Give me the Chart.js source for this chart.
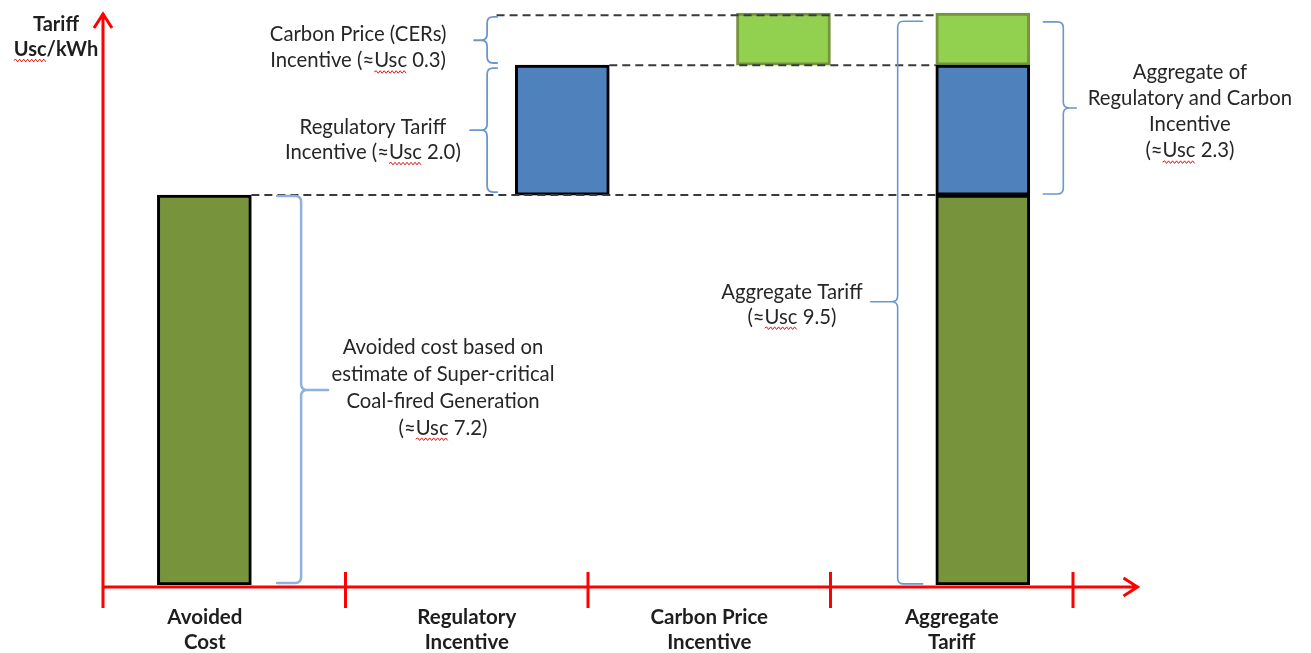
<!DOCTYPE html>
<html>
<head>
<meta charset="utf-8">
<style>
  html, body { margin: 0; padding: 0; background: #ffffff; }
  canvas { display: block; }
</style>
<script src="https://cdn.jsdelivr.net/npm/chart.js@4.4.1/dist/chart.umd.min.js"></script>
</head>
<body>
<canvas id="c" width="1311" height="653"></canvas>
<script>
// ---------------- DATA ----------------
const categories = ['Avoided Cost', 'Regulatory Incentive', 'Carbon Price Incentive', 'Aggregate Tariff'];
const categoryLabels = [['Avoided', 'Cost'], ['Regulatory', 'Incentive'], ['Carbon Price', 'Incentive'], ['Aggregate', 'Tariff']];
// bar heights as drawn (schematic, arbitrary units of the unlabelled y axis)
const avoidedCostValues = [7.2, null, null, 7.2];
const regulatoryValues  = [null, 2.4, null, 2.4];
const carbonValues      = [null, null, 0.96, 0.96];
const yAxisTitle = ['Tariff', 'Usc/kWh'];
const noteCarbon     = ['Carbon Price (CERs)', 'Incentive (≈Usc 0.3)'];
const noteRegulatory = ['Regulatory Tariff', 'Incentive (≈Usc 2.0)'];
const noteAvoided    = ['Avoided cost based on', 'estimate of Super-critical', 'Coal-fired Generation', '(≈Usc 7.2)'];
const noteAggregate  = ['Aggregate Tariff', '(≈Usc 9.5)'];
const noteAggOf      = ['Aggregate of', 'Regulatory and Carbon', 'Incentive', '(≈Usc 2.3)'];

// ---------------- LAYOUT (positions in axis units) ----------------
const barCenters = [0.418, 1.894, 2.806, 3.628];
const labelCenters = [0.42, 1.5, 2.5, 3.5];
const BAR_W = 94;

const regBase = avoidedCostValues[3];
const carbonBase = regBase + regulatoryValues[3];
const topValue = carbonBase + carbonValues[3];

function series(label, values, base, fill, border) {
  const data = [];
  values.forEach((v, i) => { if (v != null) data.push({ x: barCenters[i], y: [base, base + v] }); });
  return {
    label, data,
    backgroundColor: fill, borderColor: border, borderWidth: 3, borderSkipped: false,
    barThickness: BAR_W, grouped: false, xAxisID: 'xb', yAxisID: 'y'
  };
}

const FONT = 'Lato, "Open Sans", sans-serif';

function squiggle(ctx, x1, x2, y) {
  ctx.save();
  ctx.strokeStyle = '#e81010';
  ctx.lineWidth = 1;
  ctx.setLineDash([]);
  ctx.beginPath();
  let up = true;
  ctx.moveTo(x1, y);
  for (let x = x1 + 2; x <= x2; x += 2) { ctx.lineTo(x, y + (up ? -1.3 : 1.3)); up = !up; }
  ctx.stroke();
  ctx.restore();
}

function drawLines(ctx, lines, cx, cy, lh, font, size, color) {
  ctx.save();
  ctx.font = font;
  ctx.fillStyle = color;
  ctx.textAlign = 'center';
  ctx.textBaseline = 'middle';
  const y0 = cy - (lines.length - 1) * lh / 2;
  lines.forEach((ln, i) => {
    const y = y0 + i * lh;
    ctx.fillText(ln, cx, y);
    const k = ln.indexOf('Usc');
    if (k >= 0) {
      const w = ctx.measureText(ln).width;
      const left = cx - w / 2 + ctx.measureText(ln.slice(0, k)).width;
      const uw = ctx.measureText('Usc').width;
      squiggle(ctx, left, left + uw, y + size * 0.55);
    }
  });
  ctx.restore();
}

function brace(ctx, xs, yTop, yBot, yTip, endLen, tipLen, dir, color, lw) {
  const r = 6;
  ctx.save();
  ctx.strokeStyle = color;
  ctx.lineWidth = lw;
  ctx.setLineDash([]);
  ctx.lineCap = 'round';
  ctx.beginPath();
  ctx.moveTo(xs - dir * endLen, yTop);
  ctx.lineTo(xs - dir * r, yTop);
  ctx.quadraticCurveTo(xs, yTop, xs, yTop + r);
  ctx.lineTo(xs, yTip - r);
  ctx.quadraticCurveTo(xs, yTip, xs + dir * r, yTip);
  ctx.lineTo(xs + dir * tipLen, yTip);
  ctx.moveTo(xs + dir * r, yTip);
  ctx.quadraticCurveTo(xs, yTip, xs, yTip + r);
  ctx.lineTo(xs, yBot - r);
  ctx.quadraticCurveTo(xs, yBot, xs - dir * r, yBot);
  ctx.lineTo(xs - dir * endLen, yBot);
  ctx.stroke();
  ctx.restore();
}

const decor = {
  id: 'decor',
  afterDatasetsDraw(chart) {
    const ctx = chart.ctx;
    const xs = chart.scales.xb, ys = chart.scales.y;
    const X = v => xs.getPixelForValue(v);
    const Y = v => ys.getPixelForValue(v);
    const half = BAR_W / 2;

    // dashed guide lines
    ctx.save();
    ctx.strokeStyle = '#3a3a3a';
    ctx.lineWidth = 2;
    ctx.setLineDash([8, 5]);
    const aggLeft = X(barCenters[3]) - half;
    ctx.beginPath();
    ctx.moveTo(X(barCenters[0]) + half, Y(regBase)); ctx.lineTo(aggLeft, Y(regBase));
    ctx.moveTo(X(barCenters[1]) + half, Y(carbonBase)); ctx.lineTo(aggLeft, Y(carbonBase));
    ctx.moveTo(X(1.623), Y(topValue) + 2); ctx.lineTo(aggLeft, Y(topValue) + 2);
    ctx.stroke();
    ctx.restore();

    // red axes with arrows and ticks
    const x0 = X(0);
    const yA = Y(0) + 2;
    const tipY = ys.top + 2;
    const tipX = X(4.27);
    ctx.save();
    ctx.strokeStyle = '#ff0000';
    ctx.lineWidth = 3;
    ctx.setLineDash([]);
    ctx.beginPath();
    ctx.moveTo(x0, yA + 21); ctx.lineTo(x0, tipY);
    ctx.moveTo(x0 - 9, tipY + 15); ctx.lineTo(x0, tipY + 1); ctx.lineTo(x0 + 9, tipY + 15);
    ctx.moveTo(x0 - 1, yA); ctx.lineTo(tipX, yA);
    ctx.moveTo(tipX - 15, yA - 9); ctx.lineTo(tipX - 1, yA); ctx.lineTo(tipX - 15, yA + 9);
    for (let t = 1; t <= 4; t++) { ctx.moveTo(X(t), yA - 15); ctx.lineTo(X(t), yA + 21); }
    ctx.stroke();
    ctx.restore();

    // braces
    const light = '#8fb1db', mid = '#6b97d0';
    brace(ctx, X(0.817), Y(regBase) + 1, Y(0) - 2, Y(3.6), 24, 27, 1, light, 2.5);
    brace(ctx, X(1.584), Y(carbonBase) + 3, Y(regBase) - 3, Y(8.4), 10, 17, -1, mid, 1.8);
    brace(ctx, X(1.584), Y(10.49), Y(9.64), Y(10.06), 10, 13, -1, mid, 1.8);
    brace(ctx, X(3.277), Y(10.41), Y(0.02), Y(5.23), 25, 27, -1, mid, 1.6);
    brace(ctx, X(3.96), Y(10.4), Y(7.22), Y(8.81), 20, 13, 1, mid, 1.6);

    // annotation texts
    const size = 20.3;
    const body = size + 'px ' + FONT;
    const col = '#262626';
    drawLines(ctx, noteCarbon, X(1.052), Y(9.92), 26, body, size, col);
    drawLines(ctx, noteRegulatory, X(1.113), Y(8.22), 25, body, size, col);
    drawLines(ctx, noteAvoided, X(1.402), Y(3.647), 27, body, size, col);
    drawLines(ctx, noteAggregate, X(2.841), Y(5.18), 25, body, size, col);
    drawLines(ctx, noteAggOf, X(4.482), Y(8.744), 26.3, body, size, col);

    // category labels
    const bold = 'bold 20.5px ' + FONT;
    categoryLabels.forEach((lines, i) => {
      drawLines(ctx, lines, X(labelCenters[i]), yA + 43, 25, bold, 20.5, '#1e1e1e');
    });

    // y axis title
    drawLines(ctx, yAxisTitle, x0 - 47, tipY + 24, 25, 'bold 20px ' + FONT, 20, '#1e1e1e');
  }
};

new Chart(document.getElementById('c'), {
  type: 'bar',
  data: {
    labels: categories,
    datasets: [
      series('Avoided Cost', avoidedCostValues, 0, '#77933c', '#000000'),
      series('Regulatory Incentive', regulatoryValues, regBase, '#4f81bd', '#000000'),
      series('Carbon Price Incentive', carbonValues, carbonBase, '#92d050', '#77933c')
    ]
  },
  options: {
    responsive: false,
    animation: false,
    devicePixelRatio: 1,
    layout: { padding: { left: 103, right: 238, top: 11, bottom: 68 } },
    plugins: { legend: { display: false }, tooltip: { enabled: false } },
    scales: {
      x: { type: 'category', offset: true, display: false },
      xb: { type: 'linear', min: 0, max: 4, offset: false, display: false },
      y: { type: 'linear', min: 0, max: 10.6, display: false }
    }
  },
  plugins: [decor]
});
</script>
</body>
</html>
